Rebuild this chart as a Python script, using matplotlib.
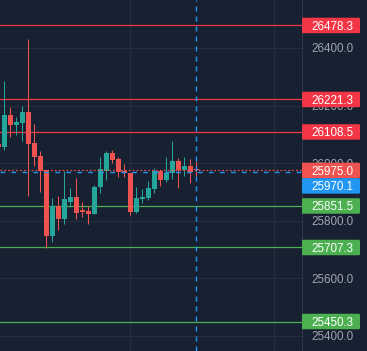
#!/usr/bin/env python3
"""
Candlestick chart with horizontal level lines and a right-hand price scale,
dark theme, crosshair on the last bar.
"""
import numpy as np
import matplotlib
matplotlib.use("Agg")
import matplotlib.pyplot as plt
from matplotlib.patches import FancyBboxPatch

# ---- data -----------------------------------------------------------------
BAR_INDEX = list(range(-1, 33))
OPENS = [26067, 26057, 26167, 26133, 26140, 26178, 26070, 26025, 25976, 25748,
         25851, 25806, 25867, 25884, 25836, 25834, 25824, 25916, 25973, 26037,
         26015, 25973, 25965, 25832, 25875, 25880, 25910, 25973, 25942, 25965,
         26008, 25976, 25990, 25980]
HIGHS = [26075, 26285, 26195, 26159, 26199, 26431, 26136, 26042, 25978, 25878,
         25887, 25972, 25915, 25950, 25867, 25851, 25924, 26021, 26042, 26046,
         26021, 25997, 25966, 25916, 25912, 25938, 25982, 25976, 26023, 26077,
         26017, 26021, 26015, 26008]
LOWS = [26050, 26046, 26092, 26098, 26077, 25887, 25990, 25901, 25705, 25727,
        25768, 25789, 25849, 25806, 25814, 25789, 25824, 25898, 25942, 26002,
        25953, 25953, 25820, 25826, 25861, 25872, 25898, 25921, 25936, 25945,
        25915, 25957, 25932, 25956]
CLOSES = [26057, 26167, 26133, 26143, 26178, 26068, 26023, 25973, 25748, 25851,
          25806, 25875, 25884, 25826, 25832, 25824, 25918, 25979, 26037, 26011,
          25968, 25965, 25832, 25878, 25883, 25913, 25973, 25942, 25967, 26008,
          25976, 25990, 25971, 25975]

RESISTANCE = [26478.3, 26221.3, 26108.5]
SUPPORT = [25851.5, 25707.3, 25450.3]
LAST_PRICE = 25975.0
CROSSHAIR_PRICE = 25970.1
CROSSHAIR_BAR = 32
PRICE_TICKS = [26400, 26200, 26000, 25800, 25600, 25400]
TIME_GRID_BARS = [21, 45]

# ---- style ----------------------------------------------------------------
BG = "#172131"
GRID = "#242e3e"
UP = "#26a69a"
DOWN = "#ef5350"
RES_COLOR = "#f23645"
SUP_COLOR = "#4caf50"
CROSS = "#2196f3"
TICK_TEXT = "#a0a4ad"

W, H = 367, 351
SCALE_X = 301.5          # px where price scale begins
PX_PER_PT = 0.288        # pixels per price unit
Y_TOP = 25400 + 336 / PX_PER_PT
Y_BOT = 25400 - 15 / PX_PER_PT
BOX_H = 15.5 / PX_PER_PT


def price_label(ax, y, text, color):
    ax.add_patch(FancyBboxPatch((0.3, y - BOX_H / 2), 58.2, BOX_H,
                                boxstyle="round,pad=0,rounding_size=1.2",
                                mutation_aspect=1 / PX_PER_PT,
                                facecolor=color, edgecolor="none", zorder=5))
    ax.text(30.5, y, text, color="white", fontsize=8.4, ha="center",
            va="center_baseline", family="Liberation Sans", zorder=6)


def main():
    plt.rcParams["lines.scale_dashes"] = False
    fig = plt.figure(figsize=(W / 100, H / 100), dpi=100, facecolor=BG)

    ax = fig.add_axes([0, 0, SCALE_X / W, 1])
    ax.set_facecolor(BG)
    ax.set_xlim(-4.3 / 6, (SCALE_X - 4.3) / 6)
    ax.set_ylim(Y_BOT, Y_TOP)
    ax.set_xticks([])
    ax.set_yticks([])
    for s in ax.spines.values():
        s.set_visible(False)

    for t in PRICE_TICKS:
        ax.axhline(t, color=GRID, lw=0.8, zorder=0)
    for b in TIME_GRID_BARS:
        ax.axvline(b, color=GRID, lw=0.8, zorder=0)

    for lvl in RESISTANCE:
        ax.axhline(lvl, color=RES_COLOR, lw=0.9, zorder=1)
    for lvl in SUPPORT:
        ax.axhline(lvl, color=SUP_COLOR, lw=0.9, zorder=1)

    x = np.array(BAR_INDEX)
    o = np.array(OPENS, float)
    h = np.array(HIGHS, float)
    l = np.array(LOWS, float)
    c = np.array(CLOSES, float)
    colors = [UP if cc >= oo else DOWN for oo, cc in zip(o, c)]
    ax.vlines(x, l, h, colors=colors, lw=0.75, zorder=2)
    body = np.maximum(np.abs(c - o), 3.0)
    ax.bar(x, body, bottom=np.minimum(o, c), width=0.78, color=colors,
           linewidth=0, zorder=3)

    ax.axhline(LAST_PRICE, color=DOWN, lw=0.9, ls=(0, (1.2, 1.6)), zorder=4)
    ax.axhline(CROSSHAIR_PRICE, color=CROSS, lw=1.0, ls=(0, (3.4, 4.5)), zorder=4)
    ax.axvline(CROSSHAIR_BAR, color=CROSS, lw=1.0, ls=(0, (3.6, 3.6)), zorder=4)

    # price scale
    ps = fig.add_axes([SCALE_X / W, 0, 1 - SCALE_X / W, 1])
    ps.set_facecolor(BG)
    ps.set_xlim(0, W - SCALE_X)
    ps.set_ylim(Y_BOT, Y_TOP)
    ps.set_xticks([])
    ps.set_yticks([])
    for s in ps.spines.values():
        s.set_visible(False)
    ps.axvline(0.3, color="#2c3647", lw=0.9)

    for t in PRICE_TICKS:
        ps.text(9.5, t, f"{t:.1f}", color=TICK_TEXT, fontsize=8.4, ha="left",
                va="center_baseline", family="Liberation Sans", zorder=2)

    for lvl in RESISTANCE:
        price_label(ps, lvl, f"{lvl:.1f}", RES_COLOR)
    for lvl in SUPPORT:
        price_label(ps, lvl, f"{lvl:.1f}", SUP_COLOR)
    price_label(ps, LAST_PRICE, f"{LAST_PRICE:.1f}", DOWN)
    # crosshair label is pushed just below the last-price label
    price_label(ps, LAST_PRICE - BOX_H, f"{CROSSHAIR_PRICE:.1f}", CROSS)

    fig.savefig("out.png", dpi=100, facecolor=BG)
    plt.close(fig)


if __name__ == "__main__":
    main()
